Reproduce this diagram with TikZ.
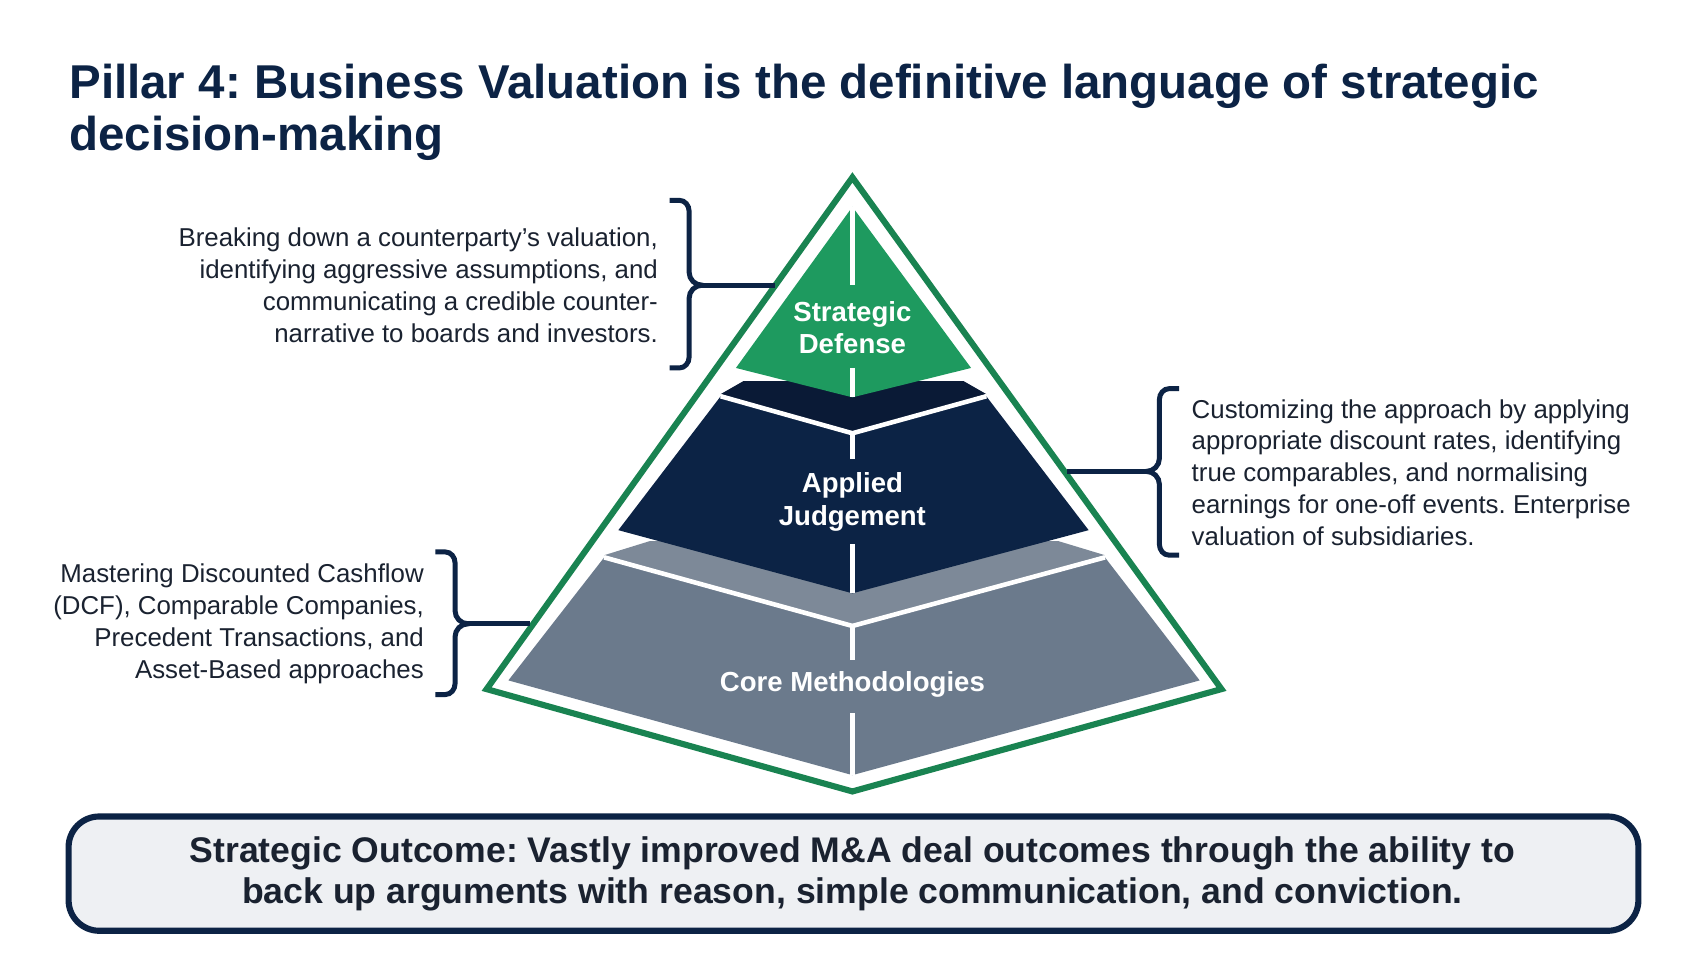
\documentclass[tikz,border=0pt]{standalone}
\usepackage{fontspec}
\setmainfont{Liberation Sans}
\frenchspacing
\definecolor{navy}{HTML}{0C2345}
\definecolor{navyband}{HTML}{0A1A36}
\definecolor{green}{HTML}{1E9A5F}
\definecolor{slate}{HTML}{6B7A8C}
\definecolor{slateband}{HTML}{7D8998}
\definecolor{ink}{HTML}{1A2230}
\definecolor{boxfill}{HTML}{EEF0F3}
\tikzset{
  note/.style={font=\fontsize{6.75}{8.3}\selectfont, text=ink, inner sep=0pt},
  layer/.style={font=\bfseries\fontsize{7.2}{8.6}\selectfont, text=white, align=center, inner sep=1pt},
  brace/.style={draw=navy, line width=1.3pt},
  split/.style={draw=white, line width=1.2pt},
}
\begin{document}
\begin{tikzpicture}[x=0.01cm, y=-0.01cm]
  \useasboundingbox[fill=white] (0,0) rectangle (1568,882);

  % title
  \node[anchor=north west, inner sep=0pt, align=left, text=navy,
        font=\bfseries\fontsize{12.4}{13.6}\selectfont] (title) at (63,58)
        {Pillar 4: Business Valuation is the definitive language of strategic\\decision-making};

  % outline
  \draw[draw=green!85!black, line width=1.6pt, fill=white]
    (783,163) -- (1122,633) -- (783,727) -- (447,633) -- cycle;

  % core layer
  \fill[slateband] (555,510) -- (597,497) -- (972,497) -- (1015,510) -- (783,575) -- cycle;
  \fill[slate] (555,512) -- (783,575) -- (1015,512) -- (1102,625) -- (783,712) -- (467,625) -- cycle;
  \draw[split] (555,512) -- (783,575) -- (1015,512);
  % applied layer
  \fill[navyband] (662,362) -- (683,350) -- (885,350) -- (906,362) -- (783,398) -- cycle;
  \fill[navy] (662,364) -- (783,398) -- (906,364) -- (1000,487) -- (783,545) -- (568,487) -- cycle;
  \draw[split] (662,364) -- (783,398) -- (906,364);
  % top layer
  \fill[green] (783,190) -- (892,338) -- (783,365) -- (676,338) -- cycle;

  % centre splits
  \draw[split] (783,190) -- (783,262);
  \draw[split] (783,338) -- (783,365);
  \draw[split] (783,398) -- (783,422);
  \draw[split] (783,500) -- (783,545);
  \draw[split] (783,575) -- (783,606);
  \draw[split] (783,655) -- (783,712);

  \node[layer] (defense) at (783,301) {Strategic\\Defense};
  \node[layer] (judgement) at (783,461) {Applied\\Judgement};
  \node[layer] (core) at (783,629) {Core Methodologies};

  % brackets
  \coordinate (tipA) at (712,262);
  \draw[brace] (615,184) -- (624,184) to[out=0,in=90] (633,194) -- (633,250)
    to[out=-90,in=180] (645,262) to[out=180,in=90] (633,274) -- (633,328)
    to[out=-90,in=0] (624,338) -- (615,338);
  \draw[brace] (645,262) -- (tipA);
  \coordinate (tipB) at (980,433);
  \draw[brace] (1083,357) -- (1074,357) to[out=180,in=90] (1065,367) -- (1065,421)
    to[out=-90,in=0] (1053,433) to[out=0,in=90] (1065,445) -- (1065,500)
    to[out=-90,in=180] (1074,510) -- (1083,510);
  \draw[brace] (1053,433) -- (tipB);
  \coordinate (tipC) at (487,573);
  \draw[brace] (400,507) -- (409,507) to[out=0,in=90] (418,517) -- (418,561)
    to[out=-90,in=180] (430,573) to[out=180,in=90] (418,585) -- (418,628)
    to[out=-90,in=0] (409,638) -- (400,638);
  \draw[brace] (430,573) -- (tipC);

  % notes
  \node[note, anchor=east, align=right] (noteA) at (605,262)
    {Breaking down a counterparty’s valuation,\\identifying aggressive assumptions, and\\communicating a credible counter-\\narrative to boards and investors.};
  \node[note, anchor=west, align=left] (noteB) at (1094,434)
    {Customizing the approach by applying\\appropriate discount rates, identifying\\true comparables, and normalising\\earnings for one-off events. Enterprise\\valuation of subsidiaries.};
  \node[note, anchor=east, align=right] (noteC) at (390,573)
    {Mastering Discounted Cashflow\\(DCF), Comparable Companies,\\Precedent Transactions, and\\Asset-Based approaches};

  % outcome box
  \draw[draw=navy, line width=1.6pt, fill=boxfill, rounded corners=8pt]
    (63,750) rectangle (1505,855);
  \node[align=center, text=ink, font=\bfseries\fontsize{9.3}{10.8}\selectfont] (outcome) at (783,803)
    {Strategic Outcome: Vastly improved M\&A deal outcomes through the ability to\\back up arguments with reason, simple communication, and conviction.};
\end{tikzpicture}
\end{document}
